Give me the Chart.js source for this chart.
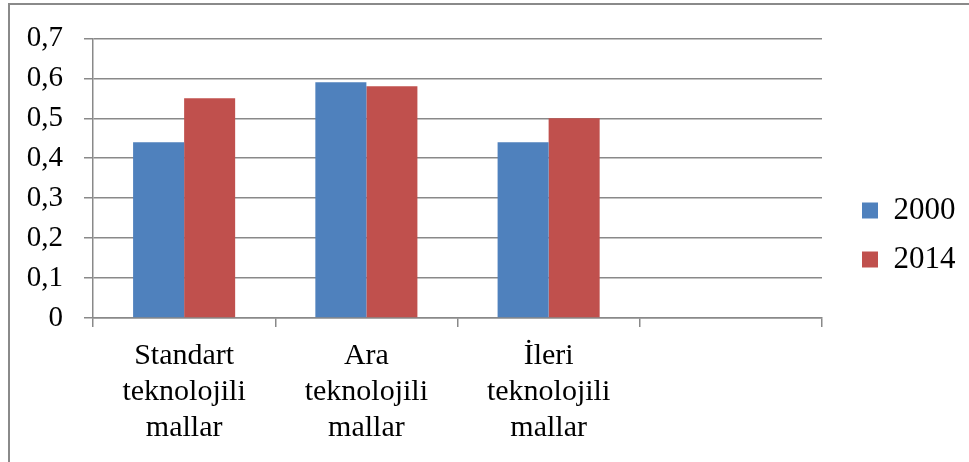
<!DOCTYPE html>
<html>
<head>
<meta charset="utf-8">
<script src="https://cdn.jsdelivr.net/npm/chart.js@4.4.1/dist/chart.umd.min.js"></script>
<style>
  html, body { margin: 0; padding: 0; background: #fff; }
</style>
</head>
<body>
<canvas id="chart" width="969" height="462"></canvas>
<script>
// data
const categories = [
  ['Standart', 'teknolojili', 'mallar'],
  ['Ara', 'teknolojili', 'mallar'],
  ['İleri', 'teknolojili', 'mallar'],
  ''
];
const seriesNames = ['2000', '2014'];
const values2000 = [0.44, 0.59, 0.44, null];
const values2014 = [0.55, 0.58, 0.50, null];
const yTickLabels = ['0', '0,1', '0,2', '0,3', '0,4', '0,5', '0,6', '0,7'];

const gridColor = '#898989';
const serif = 'Liberation Serif';

// outer frame of the picture
const frame = {
  id: 'frame',
  beforeDraw(chart) {
    const ctx = chart.ctx;
    ctx.save();
    ctx.strokeStyle = '#8a8a8a';
    ctx.lineWidth = 2;
    ctx.strokeRect(9, 4, 1000, 1000);
    ctx.restore();
  }
};

// legend sits a bit away from the plot
const legendPlace = {
  id: 'legendPlace',
  afterInit(chart) {
    const legend = chart.legend;
    const fit = legend.fit;
    legend.fit = function () {
      fit.call(this);
      this.width = 147;
    };
  },
  afterLayout(chart) {
    const legend = chart.legend;
    legend.left += 22;
    legend.top -= 13;
    legend.bottom -= 13;
  }
};

new Chart(document.querySelector('#chart'), {
  type: 'bar',
  data: {
    labels: categories,
    datasets: [
      {
        label: seriesNames[0],
        data: values2000,
        backgroundColor: '#4F81BD',
        borderWidth: 0
      },
      {
        label: seriesNames[1],
        data: values2014,
        backgroundColor: '#C0504D',
        borderWidth: 0
      }
    ]
  },
  options: {
    responsive: false,
    animation: false,
    layout: { padding: { left: 0, top: 34, right: 0, bottom: 0 } },
    datasets: {
      bar: { barPercentage: 1, categoryPercentage: 0.56 }
    },
    plugins: {
      legend: {
        position: 'right',
        labels: {
          boxWidth: 16,
          boxHeight: 16,
          padding: 18,
          color: '#000',
          font: { family: serif, size: 31 }
        }
      },
      tooltip: { enabled: false }
    },
    scales: {
      x: {
        grid: {
          offset: true,
          drawOnChartArea: false,
          drawTicks: true,
          tickLength: 9,
          color: gridColor,
          lineWidth: 1.5
        },
        border: { color: gridColor, width: 1.5 },
        ticks: {
          color: '#000',
          padding: 11,
          maxRotation: 0,
          autoSkip: false,
          font: { family: serif, size: 30, lineHeight: 36 / 30 }
        },
        afterFit(scale) {
          scale.height = 144;
        }
      },
      y: {
        min: 0,
        max: 0.7,
        grid: {
          color: gridColor,
          lineWidth: 1.5,
          tickLength: 9
        },
        border: { color: gridColor, width: 1.5 },
        ticks: {
          stepSize: 0.1,
          color: '#000',
          padding: 21,
          font: { family: serif, size: 29 },
          callback: (value, i) => yTickLabels[i]
        },
        afterFit(scale) {
          scale.width = 93;
        }
      }
    }
  },
  plugins: [frame, legendPlace]
});
</script>
</body>
</html>
